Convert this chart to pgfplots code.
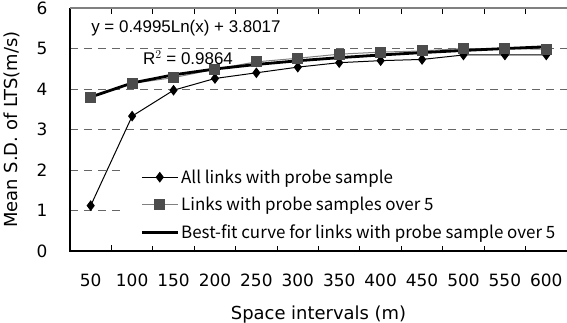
\documentclass[border=0pt]{standalone}
\usepackage{fontspec}
\setmainfont{Noto Sans CJK JP}
\newfontfamily\arial{Liberation Sans}
\newfontfamily\dejavu{DejaVu Sans}
\usepackage{pgfplots}
\pgfplotsset{compat=1.18}
\begin{document}
\begin{tikzpicture}
\begin{axis}[
  at={(0,0)}, anchor=south west,
  scale only axis, width=497bp, height=243bp,
  xmin=-0.5, xmax=11.5, ymin=0, ymax=6,
  axis line style={draw=none},
  xtick={0,...,11},
  xticklabels={50,100,150,200,250,300,350,400,450,500,550,600},
  minor xtick={-0.5,0.5,...,11.5},
  major tick length=0pt,
  minor tick length=6bp,
  tick align=inside,
  minor tick style={black, line width=1bp},
  ytick={0,...,6},
  ymajorgrids,
  grid style={black!60, line width=1bp, dash pattern=on 8bp off 6bp},
  tick label style={font=\dejavu\fontsize{17}{20}\selectfont},
  /pgf/number format/assume math mode=true,
  x tick label style={yshift=-19bp},
  y tick label style={xshift=-19bp},
  xlabel={Space intervals (m)},
  ylabel={Mean S.D. of LTS(m/s)},
  label style={font=\dejavu\fontsize{18}{21}\selectfont},
  xlabel style={at={(axis description cs:0.5,-0.262)}, anchor=center},
  ylabel style={at={(axis description cs:-0.1167,0.5)}, anchor=center},
  legend image code/.code={\draw[mark repeat=2,mark phase=2,#1] plot coordinates {(0bp,0bp)(18bp,0bp)(36bp,0bp)};},
  legend style={at={(rel axis cs:0.107,0.36)}, anchor=north west, draw=none, fill=white,
    font=\fontsize{17}{20}\selectfont, inner xsep=17bp, inner ysep=4bp, row sep=8.5bp,
    nodes={inner xsep=2bp}},
  legend cell align=left,
  clip=false,
]
\addplot[black, line width=1bp, mark=diamond*, mark size=4.6bp, mark options={solid}] coordinates {
 (0,1.12) (1,3.33) (2,3.97) (3,4.26) (4,4.40) (5,4.54) (6,4.65) (7,4.70) (8,4.73) (9,4.84) (10,4.84) (11,4.84)};
\addlegendentry{All links with probe sample}
\addplot[black!50, line width=1bp, mark=square*, mark size=5bp, mark options={fill=black!70, draw=black!70}] coordinates {
 (0,3.79) (1,4.14) (2,4.28) (3,4.49) (4,4.67) (5,4.76) (6,4.86) (7,4.91) (8,4.94) (9,5.00) (10,5.00) (11,4.98)};
\addlegendentry{Links with probe samples over 5}
\addplot[black, line width=2.8bp, mark=none] coordinates {
 (0,3.8017) (1,4.148) (2,4.350) (3,4.494) (4,4.606) (5,4.697) (6,4.774) (7,4.840) (8,4.899) (9,4.952) (10,4.999) (11,5.043)};
\addlegendentry{Best-fit curve for links with probe sample over 5}
\draw[black, line width=2bp] (rel axis cs:0,1) -- (rel axis cs:0,0) -- (rel axis cs:1,0);
\draw[black!50, line width=1.2bp] (rel axis cs:0,1) -- (rel axis cs:1,1);
\node[font=\arial\fontsize{17}{20}\selectfont] at (axis cs:2.30,5.50) {y = 0.4995Ln(x) + 3.8017};
\node[font=\arial\fontsize{17}{20}\selectfont] at (axis cs:2.35,4.78) {R$^2$ = 0.9864};
\end{axis}
\pgfresetboundingbox
\path (-70bp,-72bp) rectangle (497bp,251bp);
\end{tikzpicture}
\end{document}
